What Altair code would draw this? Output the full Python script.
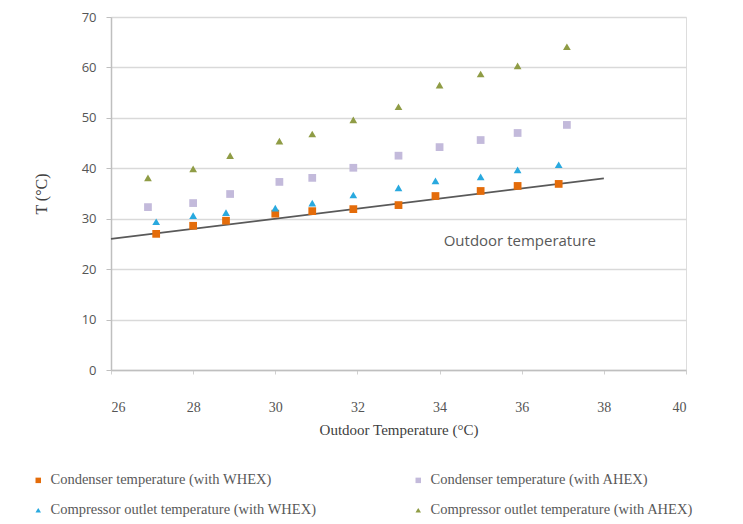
import altair as alt
import pandas as pd

# ---- data ----
x_whex = [27.1, 28.0, 28.8, 30.0, 30.9, 31.9, 33.0, 33.9, 35.0, 35.9, 36.9]
x_ahex = [26.9, 28.0, 28.9, 30.1, 30.9, 31.9, 33.0, 34.0, 35.0, 35.9, 37.1]
cond_whex = [27.0, 28.6, 29.6, 31.0, 31.5, 31.9, 32.7, 34.5, 35.5, 36.5, 36.9]
comp_whex = [29.4, 30.6, 31.2, 32.1, 33.1, 34.7, 36.1, 37.5, 38.3, 39.7, 40.7]
cond_ahex = [32.3, 33.1, 34.9, 37.3, 38.1, 40.1, 42.5, 44.2, 45.6, 47.0, 48.6]
comp_ahex = [38.1, 39.9, 42.5, 45.4, 46.8, 49.6, 52.2, 56.5, 58.7, 60.3, 64.1]

series_names = [
    "Condenser temperature (with WHEX)",
    "Compressor outlet temperature (with WHEX)",
    "Condenser temperature (with AHEX)",
    "Compressor outlet temperature (with AHEX)",
]
series_colors = ["#E46C0A", "#29A9DF", "#C3BADB", "#8F9C45"]
series_shapes = ["square", "triangle-up", "square", "triangle-up"]

outdoor_x = [26, 38]
outdoor_y = [26, 38]
annot_x = [34.1]
annot_y = [25.6]
annot_text = ["Outdoor temperature"]

x_ticks = [26, 28, 30, 32, 34, 36, 38, 40]
y_ticks = [0, 10, 20, 30, 40, 50, 60, 70]

rows = []
for name, xs, ys in [
    (series_names[0], x_whex, cond_whex),
    (series_names[2], x_ahex, cond_ahex),
    (series_names[1], x_whex, comp_whex),
    (series_names[3], x_ahex, comp_ahex),
]:
    for a, b in zip(xs, ys):
        rows.append({"x": a, "y": b, "series": name})
df = pd.DataFrame(rows)
line_df = pd.DataFrame({"x": outdoor_x, "y": outdoor_y})
annot_df = pd.DataFrame({"x": annot_x, "y": annot_y, "t": annot_text})

SANS = "Open Sans"
SERIF = "Liberation Serif"

xscale = alt.Scale(domain=[26, 40], nice=False)
yscale = alt.Scale(domain=[0, 70], nice=False)

xaxis = alt.Axis(
    values=x_ticks, grid=False, domainColor="#BFBFBF", domainWidth=1.5,
    tickColor="#D0D0D0", tickSize=4, labelPadding=26,
    labelFont=SERIF, labelFontSize=14, labelColor="#555555",
    title="Outdoor Temperature (°C)", titleFont=SERIF, titleFontSize=15,
    titleFontWeight="normal", titleColor="#404040", titlePadding=8,
)
yaxis = alt.Axis(
    values=y_ticks, grid=True, gridColor="#D9D9D9", gridWidth=1.5,
    domainColor="#BFBFBF", domainWidth=1.5, tickColor="#BFBFBF", tickSize=5,
    labelFont=SANS, labelFontSize=13, labelColor="#555555", labelPadding=10,
    title="T (°C)", titleFont=SERIF, titleFontSize=16, titleFontWeight="normal",
    titleColor="#404040", titlePadding=32,
)

line = alt.Chart(line_df).mark_line(color="#595959", strokeWidth=1.6).encode(
    x=alt.X("x:Q", scale=xscale, axis=xaxis),
    y=alt.Y("y:Q", scale=yscale, axis=yaxis),
)

points = alt.Chart(df).mark_point(filled=True, opacity=1, size=60).encode(
    x=alt.X("x:Q", scale=xscale),
    y=alt.Y("y:Q", scale=yscale),
    color=alt.Color(
        "series:N",
        scale=alt.Scale(domain=series_names, range=series_colors),
        legend=alt.Legend(
            title=None, orient="none", legendX=-80, legendY=456, columns=2,
            columnPadding=94, rowPadding=15, symbolSize=30, labelOffset=5,
            labelFont=SERIF, labelFontSize=14.5, labelColor="#595959",
            labelLimit=400, padding=0,
        ),
    ),
    shape=alt.Shape(
        "series:N",
        scale=alt.Scale(domain=series_names, range=series_shapes),
        legend=None,
    ),
)

annot = alt.Chart(annot_df).mark_text(
    align="left", baseline="middle", font=SANS, fontSize=15, color="#595959"
).encode(x=alt.X("x:Q", scale=xscale), y=alt.Y("y:Q", scale=yscale), text="t:N")

chart = (
    alt.layer(line, points, annot)
    .properties(
        width=575, height=353,
        autosize=alt.AutoSizeParams(type="none"),
        padding={"left": 103, "top": 9, "right": 40, "bottom": 155},
    )
    .configure_view(stroke=None)
    .configure(background="white")
)

chart.save("out.html", embed_options={"renderer": "svg", "actions": False})
